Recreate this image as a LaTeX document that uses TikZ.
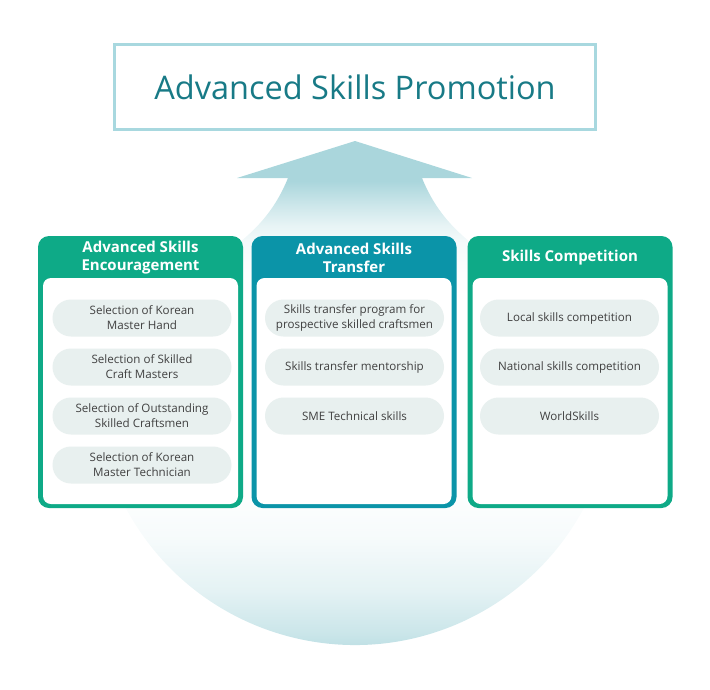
\documentclass[tikz,border=0pt]{standalone}
\usepackage{fontspec}
\setmainfont{Open Sans}
\usepackage{xcolor}
\definecolor{skgreen}{RGB}{14,170,135}
\definecolor{skblue}{RGB}{11,148,168}
\definecolor{promoline}{RGB}{168,216,223}
\definecolor{promotext}{RGB}{24,122,134}
\definecolor{pillgrey}{RGB}{232,240,239}
\definecolor{pilltext}{RGB}{64,64,64}
\definecolor{arrowteal}{RGB}{170,214,220}
\pgfdeclareverticalshading{risefade}{100bp}{color(0bp)=(arrowteal); color(25bp)=(arrowteal);
  color(27bp)=(arrowteal!90!white); color(29.5bp)=(arrowteal!62!white); color(33.4bp)=(arrowteal!32!white);
  color(38.4bp)=(arrowteal!10!white); color(42bp)=(arrowteal!3!white); color(46bp)=(white);
  color(60bp)=(white); color(63.2bp)=(arrowteal!4!white); color(65.6bp)=(arrowteal!12!white);
  color(67.2bp)=(arrowteal!28!white); color(69.1bp)=(arrowteal!60!white); color(71.3bp)=(arrowteal);
  color(75bp)=(arrowteal); color(100bp)=(arrowteal)}

\begin{document}
\begin{tikzpicture}[x=1pt,y=-1pt,
  colbox/.style={rounded corners=11pt,minimum width=205pt,minimum height=272pt,inner sep=0pt},
  panel/.style={fill=white,rounded corners=8pt,minimum width=195pt,minimum height=226pt,inner sep=0pt},
  headtxt/.style={text=white,font=\bfseries\fontsize{15}{18}\selectfont,align=center},
  pill/.style={fill=pillgrey,rounded corners=18.5pt,minimum width=179pt,minimum height=37pt,
    inner sep=0pt,text=pilltext,font=\fontsize{11.6}{15}\selectfont,align=center}]
        \useasboundingbox (0,0) rectangle (710,689);
        \shade[shading=risefade]
          (355,141)--(472,178)--(422,178) .. controls (433,205) and (448,224) .. (470,242)
          --(580,255) arc[start angle=-30,end angle=210,radius=260]
          --(240,242) .. controls (262,224) and (277,205) .. (288,178)--(237,178)--cycle;
        \node[draw=promoline,line width=3pt,minimum width=481pt,minimum height=85pt,
          text=promotext,font=\fontsize{32.5}{38}\selectfont] (promo) at (355,87) {Advanced Skills Promotion};
        \foreach \cx/\col/\name/\head in {140.5/skgreen/enc/{Advanced Skills\\Encouragement},
            354/skblue/trans/{Advanced Skills\\Transfer},570/skgreen/comp/{Skills Competition}}{
          \node[colbox,fill=\col] (\name) at (\cx,372) {};
          \node[panel,anchor=south] (\name-in) at ([yshift=4pt]\name.south) {};
          \node[headtxt] (\name-head) at ([yshift=-22pt]\name.north) {\head};
        }
        \foreach \i/\txt in {1/{Selection of Korean\\Master Hand},2/{Selection of Skilled\\Craft Masters},
            3/{Selection of Outstanding\\Skilled Craftsmen},4/{Selection of Korean\\Master Technician}}{
          \node[pill] (enc-\i) at (142,318+49*\i-49) {\txt};
        }
        \foreach \i/\txt in {1/{Skills transfer program for\\prospective skilled craftsmen},
            2/{Skills transfer mentorship},3/{SME Technical skills}}{
          \node[pill] (trans-\i) at (354.5,318+49*\i-49) {\txt};
        }
        \foreach \i/\txt in {1/{Local skills competition},2/{National skills competition},3/{WorldSkills}}{
          \node[pill] (comp-\i) at (569.5,318+49*\i-49) {\txt};
        }
      \end{tikzpicture}
\end{document}
